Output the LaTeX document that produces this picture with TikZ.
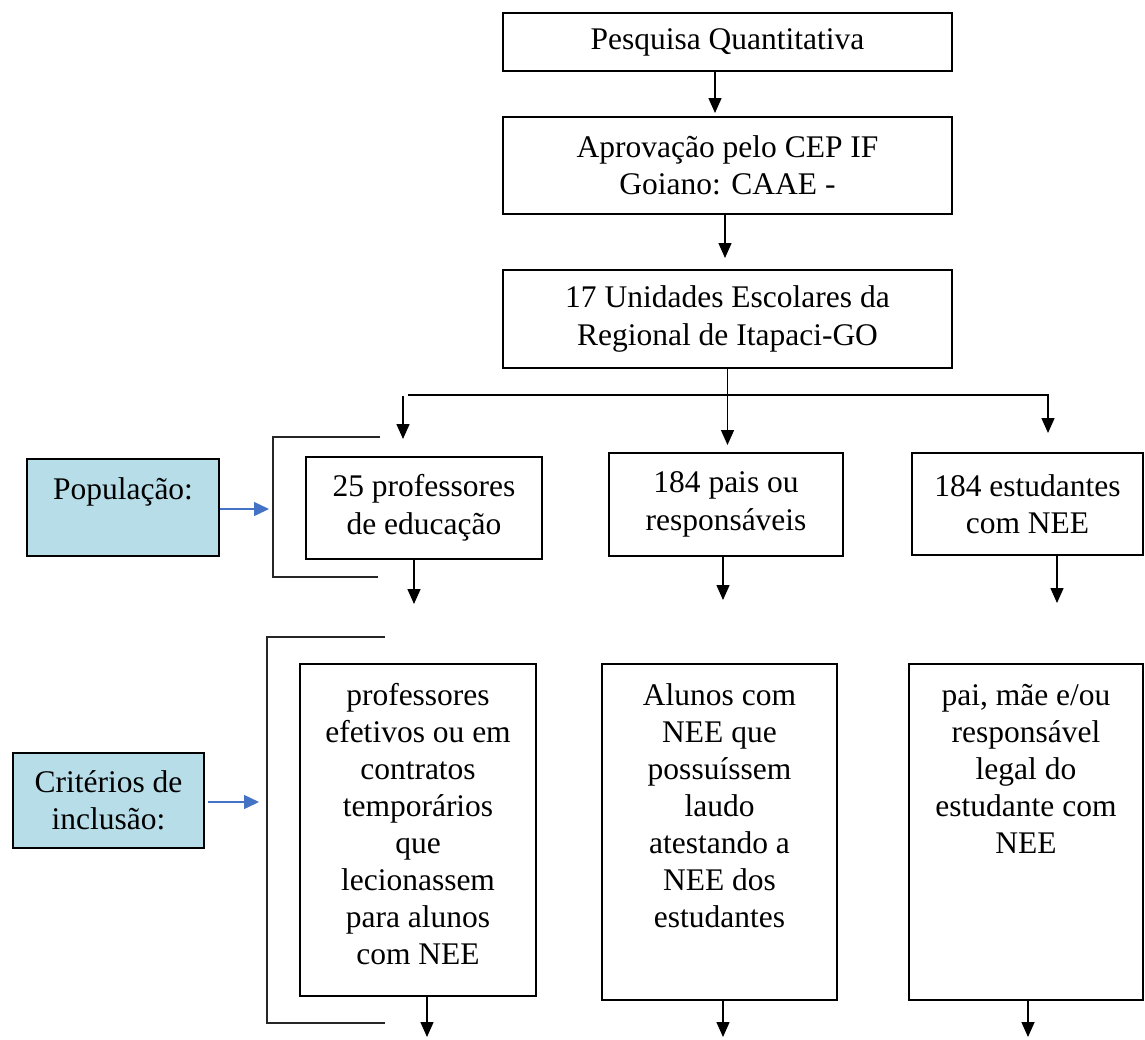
\documentclass[tikz,border=0pt]{standalone}
\usepackage{fontspec}
\setmainfont{Liberation Serif}
\usetikzlibrary{arrows.meta}
\definecolor{sideblue}{RGB}{183,221,232}
\definecolor{arrblue}{RGB}{68,114,196}
\begin{document}
\begin{tikzpicture}[x=0.5pt,y=-0.5pt,
  box/.style={draw=black, line width=0.85pt, inner sep=0pt, align=center, font=\fontsize{15.75}{18.75}\selectfont},
  side/.style={box, fill=sideblue},
  txt/.style={inner sep=0pt, align=center, font=\fontsize{15.75}{18.5}\selectfont},
  arr/.style={line width=0.75pt, -{Triangle[length=7.5pt,width=6.5pt]}},
  barr/.style={draw=arrblue, line width=0.75pt, -{Triangle[length=7.5pt,width=7pt]}, arrblue},
  brk/.style={draw=black!85, line width=0.85pt},
]
\useasboundingbox (0,0) rectangle (1145,1039);

% top column
\node[box, minimum width=224.5pt, minimum height=29pt] (pq) at (727.5,42) {Pesquisa Quantitativa};
\node[box, minimum width=224.5pt, minimum height=48.5pt] (ap) at (727.5,165.5) {Aprovação pelo CEP IF\\ Goiano: CAAE -};
\node[box, minimum width=224.5pt, minimum height=49pt] (un) at (727.5,319) {17 Unidades Escolares da\\ Regional de Itapaci-GO};

\coordinate (a1e) at (715,113);
\coordinate (a2e) at (725,258);
\draw[arr] (pq.south -| a1e) -- (a1e);
\draw[arr] (ap.south -| a2e) -- (a2e);

% distribution
\coordinate (m2e) at (727.5,445);
\coordinate (hl) at (408,395);
\coordinate (hr) at (1048,395);
\coordinate (re) at (1048,433);
\coordinate (ls) at (403,396);
\coordinate (le) at (403,439);
\draw[arr] (un.south) -- (m2e);
\draw[arr] (hl) -- (hr) -- (re);
\draw[arr] (ls) -- (le);

% population row
\node[side, minimum width=96pt, minimum height=48.5pt] (pop) at (123,507.5) {};
\node[txt] (poptxt) at (123,492) {População:};
\node[box, minimum width=118pt, minimum height=51pt] (p25) at (424,508) {25 professores\\ de educação};
\node[box, minimum width=117pt, minimum height=51.5pt] (pais) at (726,504.5) {184 pais ou\\ responsáveis};
\node[box, minimum width=115.5pt, minimum height=51pt] (est) at (1027.5,504) {184 estudantes\\ com NEE};

\coordinate (b1e) at (269,509);
\draw[barr] (pop.east |- b1e) -- (b1e);
\draw[brk] (380,437) -- (273,437) -- (273,577) -- (378,577);

\coordinate (d1) at (414,604);
\coordinate (d2) at (723,600);
\coordinate (d3) at (1057,603);
\draw[arr] (p25.south -| d1) -- (d1);
\draw[arr] (pais.south -| d2) -- (d2);
\draw[arr] (est.south -| d3) -- (d3);

% inclusion criteria row
\node[side, minimum width=95.5pt, minimum height=47.5pt] (crit) at (108.5,800.5) {Critérios de\\ inclusão:};
\coordinate (b2s) at (208,802);
\coordinate (b2e) at (259,802);
\draw[barr] (b2s) -- (b2e);
\draw[brk] (385,637) -- (267,637) -- (267,1023) -- (385,1023);

\node[box, minimum width=118pt, minimum height=166pt] (prof) at (418,830) {};
\node[txt] (proftxt) at (418,824.5) {professores\\ efetivos ou em\\ contratos\\ temporários\\ que\\ lecionassem\\ para alunos\\ com NEE};
\node[box, minimum width=117.5pt, minimum height=168pt] (alu) at (719.5,832) {};
\node[txt] (alutxt) at (719.5,806) {Alunos com\\ NEE que\\ possuíssem\\ laudo\\ atestando a\\ NEE dos\\ estudantes};
\node[box, minimum width=117pt, minimum height=168pt] (pai) at (1026,832) {};
\node[txt] (paitxt) at (1026,769) {pai, mãe e/ou\\ responsável\\ legal do\\ estudante com\\ NEE};

\coordinate (e1) at (427,1037);
\coordinate (e2) at (723,1037);
\coordinate (e3) at (1028,1037);
\draw[arr] (prof.south -| e1) -- (e1);
\draw[arr] (alu.south -| e2) -- (e2);
\draw[arr] (pai.south -| e3) -- (e3);
\end{tikzpicture}
\end{document}
